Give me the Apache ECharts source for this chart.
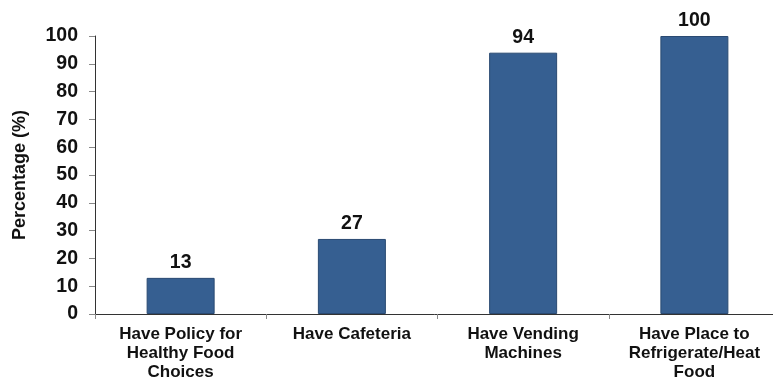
<!DOCTYPE html>
<html>
<head>
<meta charset="utf-8">
<script src="https://cdn.jsdelivr.net/npm/echarts@6/dist/echarts.min.js"></script>
<style>
  html, body { margin: 0; padding: 0; background: #fff; }
  #chart { width: 773px; height: 377px; }
</style>
</head>
<body>
<div id="chart"></div>
<script>
// Worksite food environment: share of sites with each feature
const categories = [
  'Have Policy for\nHealthy Food\nChoices',
  'Have Cafeteria',
  'Have Vending\nMachines',
  'Have Place to\nRefrigerate/Heat\nFood'
];
const percentages = [13, 27, 94, 100];
const yTicks = [0, 10, 20, 30, 40, 50, 60, 70, 80, 90, 100];

const chart = echarts.init(document.getElementById('chart'));
const font = '"Liberation Sans", Arial, sans-serif';

chart.setOption({
  animation: false,
  grid: {
    left: 95, right: -7, top: 36, bottom: 63,
    containLabel: false,
    outerBoundsMode: 'none'
  },
  xAxis: {
    type: 'category',
    data: categories,
    axisLine: { lineStyle: { color: '#333', width: 1 } },
    axisTick: { show: true, length: 5, alignWithLabel: false, lineStyle: { color: '#888' } },
    axisLabel: {
      interval: 0,
      margin: 11,
      fontFamily: font,
      fontWeight: 'bold',
      fontSize: 17,
      lineHeight: 19,
      color: '#111'
    }
  },
  yAxis: {
    type: 'value',
    min: yTicks[0],
    max: yTicks[yTicks.length - 1],
    interval: 10,
    name: 'Percentage (%)',
    nameLocation: 'middle',
    nameGap: 66,
    nameTextStyle: { fontFamily: font, fontWeight: 'bold', fontSize: 18, color: '#111' },
    axisLine: { show: true, lineStyle: { color: '#333', width: 1 } },
    axisTick: { show: true, length: 6, lineStyle: { color: '#888' } },
    splitLine: { show: false },
    axisLabel: {
      margin: 17,
      fontFamily: font,
      fontWeight: 'bold',
      fontSize: 19.5,
      color: '#111'
    }
  },
  series: [{
    type: 'bar',
    data: percentages,
    barWidth: 68,
    itemStyle: { color: '#365F91', borderColor: '#2A4A72', borderWidth: 1 },
    label: {
      show: true,
      position: 'top',
      distance: 5,
      fontFamily: font,
      fontWeight: 'bold',
      fontSize: 19.5,
      color: '#111'
    }
  }]
});
</script>
</body>
</html>
